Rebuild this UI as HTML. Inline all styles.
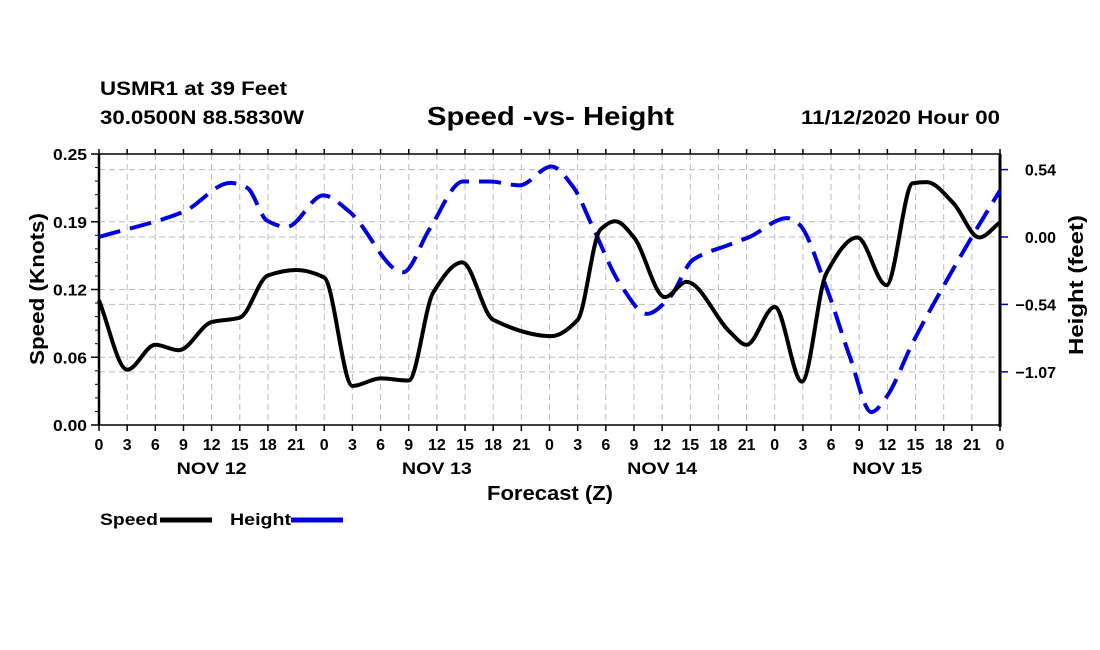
<!DOCTYPE html>
<html><head><meta charset="utf-8"><style>
body{margin:0;background:#fff;}
svg{display:block;font-family:"Liberation Sans",sans-serif;font-weight:bold;}
</style></head><body>
<svg id="c" width="1100" height="650" viewBox="0 0 1100 650">
<text x="100" y="95" font-size="19" textLength="187" lengthAdjust="spacingAndGlyphs">USMR1 at 39 Feet</text>
<text x="100" y="124" font-size="19" textLength="204" lengthAdjust="spacingAndGlyphs">30.0500N 88.5830W</text>
<text x="427" y="125" font-size="26" textLength="247" lengthAdjust="spacingAndGlyphs">Speed -vs- Height</text>
<text x="801" y="124" font-size="19" textLength="199" lengthAdjust="spacingAndGlyphs">11/12/2020 Hour 00</text>
<g id="grid"></g>
<g id="axes"></g>
<g id="series"></g>
<text transform="translate(44,365) rotate(-90)" font-size="20" textLength="152" lengthAdjust="spacingAndGlyphs">Speed (Knots)</text>
<text transform="translate(1083,355) rotate(-90)" font-size="20" textLength="140" lengthAdjust="spacingAndGlyphs">Height (feet)</text>
<text x="487" y="500" font-size="20" textLength="126" lengthAdjust="spacingAndGlyphs">Forecast (Z)</text>
<g>
<text x="100" y="525" font-size="17" textLength="58" lengthAdjust="spacingAndGlyphs">Speed</text>
<line x1="160" y1="520" x2="212" y2="520" stroke="#000" stroke-width="5"/>
<text x="230" y="525" font-size="17" textLength="61" lengthAdjust="spacingAndGlyphs">Height</text>
<line x1="291" y1="520" x2="343" y2="520" stroke="#0000e0" stroke-width="5"/>
</g>
</svg>
<script>
const speedHours=[0,3,6,8.5,12,15,18,21,24,27,30,33,35.6,38.7,42,48.2,51,53.4,55,57,60.3,62.6,67.2,69,72,74.9,77.5,80.8,83.9,86.7,88.2,91,93.8,96];
const speedVals=[0.115,0.051,0.074,0.069,0.095,0.099,0.138,0.143,0.136,0.036,0.043,0.041,0.122,0.150,0.097,0.082,0.097,0.180,0.188,0.173,0.118,0.132,0.086,0.074,0.109,0.040,0.140,0.173,0.129,0.223,0.224,0.205,0.173,0.187];
const heightHours=[0,9,14,15.8,17.9,20,23.9,26.7,32.4,35.2,38.8,41.6,44.8,48.2,50.5,52.6,55.5,58.4,60.8,63.3,67.2,69.3,73.3,74.6,77.5,80,82.3,83.9,86.7,89.9,93,96];
const heightVals=[0.0,0.20,0.43,0.39,0.13,0.08,0.33,0.20,-0.28,0.06,0.44,0.44,0.41,0.56,0.40,0.08,-0.37,-0.61,-0.48,-0.18,-0.06,0.0,0.15,0.10,-0.40,-0.95,-1.39,-1.27,-0.84,-0.40,0.0,0.37];
const xTickLabels=["0","3","6","9","12","15","18","21","0","3","6","9","12","15","18","21","0","3","6","9","12","15","18","21","0","3","6","9","12","15","18","21","0"];
const dayLabels=["NOV 12","NOV 13","NOV 14","NOV 15"];
const leftTicks=[0,0.0625,0.125,0.1875,0.25];
const leftTickLabels=["0.00","0.06","0.12","0.19","0.25"];
const rightTicks=[0.535,0,-0.535,-1.07];
const rightTickLabels=["0.54","0.00","\u22120.54","\u22121.07"];
const X0=99,X1=1000,Y0=154,Y1=425;
const xs=h=>X0+h/96*(X1-X0);
const yL=v=>Y1-v/0.25*(Y1-Y0);
const yR=v=>237-v*126;
const NS="http://www.w3.org/2000/svg";
function mk(t,a,p){const e=document.createElementNS(NS,t);for(const k in a)e.setAttribute(k,a[k]);p.appendChild(e);return e;}
const grid=document.getElementById('grid'),axes=document.getElementById('axes'),ser=document.getElementById('series');
const gs={stroke:"#bbb","stroke-width":1,"stroke-dasharray":"6,4"};
xTickLabels.forEach((l,i)=>{const x=xs(i*3);
 if(i>0&&i<32){const g=mk('line',Object.assign({x1:x,y1:Y0,x2:x,y2:Y1},gs),grid);
 }
 const t=mk('line',{x1:x,y1:Y1,x2:x,y2:Y1+6,stroke:"#000","stroke-width":1.5},axes);
 
 const t2=mk('line',{x1:x,y1:Y0,x2:x,y2:Y0-5,stroke:"#000","stroke-width":1.5},axes);
 
 const tx=mk('text',{x:x,y:450,"font-size":16,"text-anchor":"middle"},axes);tx.textContent=l;
 });
dayLabels.forEach((d,i)=>{const t=mk('text',{x:xs(i*24+12),y:474,"font-size":17,"text-anchor":"middle",textLength:70,lengthAdjust:"spacingAndGlyphs"},axes);t.textContent=d;
 });
leftTicks.forEach((v,i)=>{const y=yL(v);
 if(i>0&&i<4){const g=mk('line',Object.assign({x1:X0,y1:y,x2:X1,y2:y},gs),grid);
 }
 const t=mk('line',{x1:X0-8,y1:y,x2:X0,y2:y,stroke:"#000","stroke-width":1.5},axes);
 
 const tx=mk('text',{x:87,y:y+6,"font-size":16,"text-anchor":"end",textLength:34,lengthAdjust:"spacingAndGlyphs"},axes);tx.textContent=leftTickLabels[i];
 });
for(let k=1;k<20;k++){if(k%5===0)continue;const y=yL(k*0.0125);
 const t=mk('line',{x1:X0-4,y1:y,x2:X0,y2:y,stroke:"#000","stroke-width":1},axes);
 }
rightTicks.forEach((v,i)=>{const y=yR(v);
 const g=mk('line',Object.assign({x1:X0,y1:y,x2:X1,y2:y},gs),grid);
 
 const t=mk('line',{x1:X1,y1:y,x2:X1+8,y2:y,stroke:"#0000c0","stroke-width":1.5},axes);
 
 const tx=mk('text',{x:1056,y:y+6,"font-size":16,"text-anchor":"end"},axes);tx.textContent=rightTickLabels[i];
 });
const fr=mk('rect',{x:X0,y:Y0,width:X1-X0,height:Y1-Y0,fill:"none",stroke:"#000","stroke-width":1.5},axes);

const ax=mk('line',{x1:X0,y1:Y0,x2:X0,y2:Y1,stroke:"#000","stroke-width":2.5},axes);

const ar=mk('line',{x1:X1,y1:Y0,x2:X1,y2:Y1+2,stroke:"#000","stroke-width":3},axes);

function path(hs,vs,fy){const p=hs.map((h,i)=>[xs(h),fy(vs[i])]);const n=p.length;
 const d0=[];for(let i=0;i<n-1;i++)d0.push((p[i+1][1]-p[i][1])/(p[i+1][0]-p[i][0]));
 const m=[];for(let i=0;i<n;i++){if(i===0)m.push(d0[0]);else if(i===n-1)m.push(d0[n-2]);
  else if(d0[i-1]*d0[i]<=0)m.push(0);else{const a=d0[i-1],b=d0[i];m.push(2/(1/a+1/b));}}
 let d="M"+p[0][0]+","+p[0][1];
 for(let i=0;i<n-1;i++){const h=(p[i+1][0]-p[i][0])/3;
  d+=" C"+(p[i][0]+h)+","+(p[i][1]+m[i]*h)+" "+(p[i+1][0]-h)+","+(p[i+1][1]-m[i+1]*h)+" "+p[i+1][0]+","+p[i+1][1];}
 return d;}
const hp=mk('path',{d:path(heightHours,heightVals,yR),fill:"none",stroke:"#0000e0","stroke-width":4,"stroke-dasharray":"22,10"},ser);

const sp=mk('path',{d:path(speedHours,speedVals,yL),fill:"none",stroke:"#000","stroke-width":4},ser);

</script>
</body></html>
